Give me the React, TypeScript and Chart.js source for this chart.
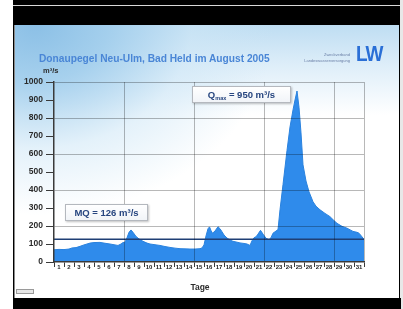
import React, { useEffect, useRef } from "react";
import { Chart, registerables } from "chart.js";

Chart.register(...registerables);

const dayLabels = [
  "1", "2", "3", "4", "5", "6", "7", "8", "9", "10", "11", "12", "13", "14", "15", "16",
  "17", "18", "19", "20", "21", "22", "23", "24", "25", "26", "27", "28", "29", "30", "31",
];
const yTickValues = [0, 100, 200, 300, 400, 500, 600, 700, 800, 900, 1000];

// time in days since 1 August 00:00
const timeDays = [
  0, 0.5, 1.0, 1.5, 1.8, 2.2, 2.6, 3.0, 3.6, 4.0, 4.6, 5.0, 5.6, 6.1, 6.4, 6.7, 6.9, 7.1, 7.3,
  7.5, 7.7, 7.9, 8.2, 8.5, 8.9, 9.3, 9.6, 10.1, 10.6, 11.1, 11.6, 12.1, 12.6, 13.1, 13.6, 14.1,
  14.6, 14.8, 15.0, 15.2, 15.4, 15.55, 15.7, 15.85, 16.1, 16.4, 16.6, 16.8, 17.0, 17.3, 17.6,
  17.9, 18.3, 18.6, 19.0, 19.3, 19.6, 19.8, 20.0, 20.2, 20.4, 20.65, 20.9, 21.2, 21.5, 21.7,
  21.9, 22.2, 22.4, 22.6, 22.9, 23.3, 23.6, 23.9, 24.1, 24.3, 24.5, 24.7, 24.9, 25.2, 25.5,
  25.9, 26.2, 26.6, 27.1, 27.6, 28.0, 28.3, 28.8, 29.3, 29.9, 30.3, 30.5, 30.8, 31,
];
// discharge in m³/s
const discharge = [
  68, 70, 69, 72, 78, 80, 87, 95, 105, 108, 109, 105, 100, 95, 92, 100, 108, 110, 135,
  165, 178, 165, 142, 128, 115, 105, 100, 96, 92, 86, 81, 77, 74, 73, 72, 72,
  74, 78, 95, 145, 185, 195, 175, 160, 172, 196, 185, 168, 150, 133, 122,
  115, 110, 106, 103, 100, 92, 118, 135, 140, 155, 176, 155, 132, 124, 135,
  160, 172, 180, 290, 430, 620, 750, 845, 900, 950, 860, 717, 540, 450, 390,
  335, 310, 290, 270, 252, 230, 215, 198, 188, 170, 165, 160, 140, 125,
];
const mqValue = 126;
const qMaxValue = 950;

const FONT = "'Liberation Sans', Arial, sans-serif";
const gridGray = "rgba(0,0,0,0.28)";
const axisDark = "#3a3a3a";

export default function App() {
  const ref = useRef<HTMLCanvasElement>(null);

  useEffect(() => {
    document.body.style.margin = "0";
    const chart = new Chart(ref.current!, {
      type: "line",
      data: {
        datasets: [
          {
            data: timeDays.map((t, i) => ({ x: t, y: discharge[i] })),
            fill: "origin",
            backgroundColor: "#2f8beb",
            borderColor: "#2a82de",
            borderWidth: 1,
            pointRadius: 0,
            tension: 0,
            order: 1,
          },
          {
            data: [
              { x: 0, y: mqValue },
              { x: 31, y: mqValue },
            ],
            fill: false,
            borderColor: "#1f3f75",
            borderWidth: 1.6,
            pointRadius: 0,
            order: 0,
          },
        ],
      },
      options: {
        animation: false,
        responsive: false,
        maintainAspectRatio: false,
        layout: { padding: { left: 0, right: 39, top: 82, bottom: 36 } },
        plugins: { legend: { display: false }, tooltip: { enabled: false } },
        scales: {
          x: {
            type: "linear",
            position: "bottom",
            min: 0,
            max: 31,
            afterBuildTicks: (s: any) => {
              s.ticks = dayLabels.map((_, i) => ({ value: i })).concat([{ value: 31 }]);
            },
            afterFit: (s: any) => {
              s.height = 1;
            },
            ticks: { display: false, autoSkip: false },
            grid: {
              z: 1,
              color: (c: any) => {
                const v = c.tick ? c.tick.value : 0;
                return v > 0 && (v % 7 === 0 || v === 31) ? gridGray : "rgba(0,0,0,0)";
              },
              tickColor: axisDark,
              tickLength: 5,
            },
            border: { z: 1, color: axisDark, width: 1.5 },
          },
          x2: {
            type: "linear",
            position: "bottom",
            min: 0,
            max: 31,
            afterBuildTicks: (s: any) => {
              s.ticks = dayLabels.map((_, i) => ({ value: i + 0.5 }));
            },
            afterFit: (s: any) => {
              s.height = 10;
            },
            ticks: {
              autoSkip: false,
              maxRotation: 0,
              minRotation: 0,
              padding: 1,
              color: "#222",
              font: { size: 6, weight: "bold", family: FONT },
              callback: (v: any) => dayLabels[Math.floor(Number(v))],
            },
            grid: { display: false, drawTicks: false },
            border: { display: false },
          },
          y: {
            type: "linear",
            min: 0,
            max: 1000,
            afterBuildTicks: (s: any) => {
              s.ticks = yTickValues.map((v) => ({ value: v }));
            },
            afterFit: (s: any) => {
              s.width = 54;
            },
            ticks: {
              padding: 3,
              color: "#2b2b2b",
              font: { size: 8.5, weight: "bold", family: FONT },
              callback: (v: any) => String(v),
            },
            grid: {
              z: 1,
              color: (c: any) => {
                const v = c.tick ? c.tick.value : 0;
                return v > 0 && v % 200 === 0 ? gridGray : "rgba(0,0,0,0)";
              },
              tickColor: axisDark,
              tickLength: 8,
            },
            border: { z: 1, color: axisDark, width: 1.5 },
          },
        },
      },
    });
    return () => chart.destroy();
  }, []);

  const abs = (s: React.CSSProperties): React.CSSProperties => ({ position: "absolute", ...s });
  const boxStyle: React.CSSProperties = {
    position: "absolute",
    background: "linear-gradient(#ffffff, #f1f4f8)",
    border: "1px solid #b4b8be",
    boxShadow: "1px 1px 2px rgba(0,0,0,0.25)",
    color: "#26457f",
    fontFamily: FONT,
    fontWeight: "bold",
    display: "flex",
    alignItems: "center",
    justifyContent: "center",
    whiteSpace: "nowrap",
    boxSizing: "border-box",
  };

  return (
    <div style={{ position: "fixed", left: 0, top: 0, width: 403, height: 309, backgroundColor: "#ffffff", overflow: "hidden" }}>
      {/* screen frame */}
      <div style={abs({ left: 13, top: 0, width: 388, height: 309, backgroundColor: "#000000" })} />
      <div style={abs({ left: 13, top: 5, width: 388, height: 1, backgroundColor: "#d8d8d8" })} />
      <div style={abs({ left: 400, top: 0, width: 3, height: 309, backgroundColor: "#e8e8e8" })} />
      {/* slide */}
      <div style={abs({ left: 14, top: 25, width: 385, height: 273, backgroundColor: "#ffffff", borderLeft: "1px solid #8a8a8a", boxSizing: "border-box" })} />
      <div
        style={abs({
          left: 15,
          top: 25,
          width: 384,
          height: 90,
          backgroundImage: "linear-gradient(180deg, rgb(190,221,242) 0%, rgb(222,238,249) 45%, rgba(255,255,255,0) 100%)",
        })}
      />
      <div
        style={abs({
          left: 15,
          top: 25,
          width: 260,
          height: 190,
          backgroundImage:
            "radial-gradient(farthest-side at 8% 0%, rgb(140,192,230) 0%, rgba(160,205,236,0.9) 30%, rgba(205,230,246,0.55) 65%, rgba(255,255,255,0) 100%)",
        })}
      />
      <canvas ref={ref} width={403} height={309} style={{ position: "absolute", left: 0, top: 0, display: "block" }} />

      {/* title */}
      <div
        style={abs({
          left: 39,
          top: 53,
          fontFamily: FONT,
          fontWeight: "bold",
          fontSize: 10.2,
          lineHeight: "12px",
          color: "#4a86d6",
          whiteSpace: "nowrap",
        })}
      >
        Donaupegel Neu-Ulm, Bad Held im August 2005
      </div>
      {/* logo */}
      <div
        style={abs({
          left: 280,
          width: 70,
          top: 52,
          fontFamily: FONT,
          fontSize: 4,
          lineHeight: "6px",
          color: "#6a7fa6",
          textAlign: "right",
          whiteSpace: "nowrap",
        })}
      >
        <div>Zweckverband</div>
        <div>Landeswasserversorgung</div>
      </div>
      <div
        style={abs({
          left: 356,
          top: 44,
          fontFamily: FONT,
          fontWeight: "bold",
          fontSize: 19,
          lineHeight: "20px",
          color: "#2a6fd6",
          transform: "scaleY(1.15)",
          letterSpacing: -1,
        })}
      >
        LW
      </div>
      {/* unit */}
      <div
        style={abs({
          left: 43,
          top: 66,
          fontFamily: FONT,
          fontWeight: "bold",
          fontSize: 7.5,
          lineHeight: "9px",
          color: "#2b2b2b",
        })}
      >
        m³/s
      </div>
      {/* annotations */}
      <div style={{ ...boxStyle, left: 192, top: 86, width: 99, height: 17, fontSize: 9.5 }}>
        <span>
          Q<sub style={{ fontSize: 5.5, verticalAlign: "-2px" }}>max</sub> = {qMaxValue} m³/s
        </span>
      </div>
      <div style={{ ...boxStyle, left: 65, top: 204, width: 83, height: 17, fontSize: 9.5 }}>
        MQ = {mqValue} m³/s
      </div>
      {/* x axis title */}
      <div
        style={abs({
          left: 180,
          width: 40,
          top: 282,
          textAlign: "center",
          fontFamily: FONT,
          fontWeight: "bold",
          fontSize: 8.5,
          lineHeight: "10px",
          color: "#2b2b2b",
        })}
      >
        Tage
      </div>
      {/* small button */}
      <div style={abs({ left: 16, top: 289, width: 18, height: 5, backgroundColor: "#e6e6e6", border: "1px solid #9a9a9a", boxSizing: "border-box" })} />
      {/* bottom black band */}
      <div style={abs({ left: 13, top: 298, width: 388, height: 11, backgroundColor: "#000000" })} />
    </div>
  );
}
